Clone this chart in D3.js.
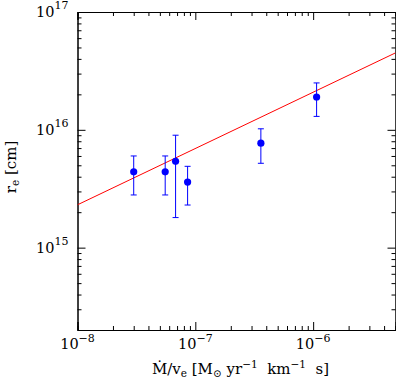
<!DOCTYPE html>
<html>
<head>
<meta charset="utf-8">
<script src="https://cdn.jsdelivr.net/npm/d3@7"></script>
<style>
  body { margin: 0; background: #fff; }
  text { font-family: "DejaVu Serif", serif; fill: #000; }
</style>
</head>
<body>
<svg id="chart" width="396" height="382"></svg>
<script>
// Data
const xVals = [3.0e-8, 5.55e-8, 6.8e-8, 8.6e-8, 3.6e-7, 1.07e-6];
const yVals = [4.4e15, 4.4e15, 5.4e15, 3.6e15, 7.7e15, 1.9e16];
const yHi   = [6.0e15, 6.0e15, 9.0e15, 4.9e15, 1.02e16, 2.5e16];
const yLo   = [2.8e15, 2.8e15, 1.8e15, 2.3e15, 5.2e15, 1.3e16];

// fitted line, two end points
const fitX = [1e-8, 5e-6];
const fitY = [2.31e15, 4.5e16];

const xDomain = [1e-8, 5e-6];
const yDomain = [2e14, 1e17];
const xMajor = [1e-8, 1e-7, 1e-6];
const yMajor = [1e15, 1e16, 1e17];
const xLabels = ["−8", "−7", "−6"];
const yLabels = ["15", "16", "17"];

const svg = d3.select("#chart");
const margin = { top: 12, right: 0.5, bottom: 52, left: 77.5 };
const width = +svg.attr("width") - margin.left - margin.right;
const height = +svg.attr("height") - margin.top - margin.bottom;
const g = svg.append("g").attr("transform", "translate(" + margin.left + "," + margin.top + ")");

const x = d3.scaleLog().domain(xDomain).range([0, width]);
const y = d3.scaleLog().domain(yDomain).range([height, 0]);

const isMajor = (v, list) => list.some(m => Math.abs(Math.log10(v) - Math.log10(m)) < 1e-6);
const xMinor = x.ticks().filter(v => !isMajor(v, xMajor));
const yMinor = y.ticks().filter(v => !isMajor(v, yMajor));

// axes with inward ticks on all four sides
function axes(gen, scale, vals, size) {
  return gen(scale).tickValues(vals).tickSize(-size).tickFormat("");
}
const axisSets = [
  [d3.axisBottom, x, "translate(0," + height + ")"],
  [d3.axisTop, x, "translate(0,0)"],
  [d3.axisLeft, y, "translate(0,0)"],
  [d3.axisRight, y, "translate(" + width + ",0)"]
];
axisSets.forEach(([gen, scale, tr]) => {
  const major = scale === x ? xMajor : yMajor;
  const minor = scale === x ? xMinor : yMinor;
  g.append("g").attr("transform", tr).call(axes(gen, scale, major, 8));
  g.append("g").attr("transform", tr).call(axes(gen, scale, minor, 4));
});
g.selectAll(".domain").attr("stroke", "#000").attr("stroke-width", 1);
g.selectAll(".tick line").attr("stroke", "#000").attr("stroke-width", 1);

// tick labels 10^n
xMajor.forEach((v, i) => {
  const t = g.append("text")
    .attr("x", x(v))
    .attr("y", height + 19)
    .attr("text-anchor", "middle")
    .style("font-size", "14.5px");
  t.append("tspan").text("10");
  t.append("tspan").attr("dy", -7.5).style("font-size", "11px").text(xLabels[i]);
});
yMajor.forEach((v, i) => {
  const t = g.append("text")
    .attr("x", -9)
    .attr("y", y(v) + 5)
    .attr("text-anchor", "end")
    .style("font-size", "14.5px");
  t.append("tspan").text("10");
  t.append("tspan").attr("dy", -8).style("font-size", "11px").text(yLabels[i]);
});

// clip for the fit line
svg.append("clipPath").attr("id", "clip")
  .append("rect").attr("width", width).attr("height", height);

g.append("line")
  .attr("clip-path", "url(#clip)")
  .attr("x1", x(fitX[0])).attr("y1", y(fitY[0]))
  .attr("x2", x(fitX[1])).attr("y2", y(fitY[1]))
  .attr("stroke", "#ff0000")
  .attr("stroke-width", 1);

// error bars
const pts = xVals.map((v, i) => ({ x: v, y: yVals[i], hi: yHi[i], lo: yLo[i] }));
const eb = g.selectAll(".err").data(pts).enter().append("g").attr("class", "err")
  .attr("stroke", "#0000ff").attr("stroke-width", 1);
eb.append("line")
  .attr("x1", d => x(d.x)).attr("x2", d => x(d.x))
  .attr("y1", d => y(d.hi)).attr("y2", d => y(d.lo));
eb.append("line")
  .attr("x1", d => x(d.x) - 3).attr("x2", d => x(d.x) + 3)
  .attr("y1", d => y(d.hi)).attr("y2", d => y(d.hi));
eb.append("line")
  .attr("x1", d => x(d.x) - 3).attr("x2", d => x(d.x) + 3)
  .attr("y1", d => y(d.lo)).attr("y2", d => y(d.lo));

g.selectAll(".pt").data(pts).enter().append("circle")
  .attr("class", "pt")
  .attr("cx", d => x(d.x))
  .attr("cy", d => y(d.y))
  .attr("r", 3.6)
  .attr("fill", "#0000ff");

// axis titles
const xt = svg.append("text")
  .attr("x", margin.left + width / 2 + 4)
  .attr("y", 374)
  .attr("text-anchor", "middle")
  .style("font-size", "15px")
  .style("white-space", "pre");
xt.append("tspan").text("Ṁ/v");
xt.append("tspan").attr("dy", 3).style("font-size", "10.5px").text("e");
xt.append("tspan").attr("dy", -3).text(" [M");
xt.append("tspan").attr("dy", 3).style("font-size", "10.5px").text("⊙");
xt.append("tspan").attr("dy", -3).text(" yr");
xt.append("tspan").attr("dy", -6).style("font-size", "10.5px").text("−1");
xt.append("tspan").attr("dy", 6).text("  km");
xt.append("tspan").attr("dy", -6).style("font-size", "10.5px").text("−1");
xt.append("tspan").attr("dy", 6).text("  s]");

const yt = svg.append("text")
  .attr("transform", "translate(16," + (margin.top + height / 2 - 4) + ") rotate(-90)")
  .attr("text-anchor", "middle")
  .style("font-size", "15px");
yt.append("tspan").text("r");
yt.append("tspan").attr("dy", 3).style("font-size", "10.5px").text("e");
yt.append("tspan").attr("dy", -3).text(" [cm]");
</script>
</body>
</html>
